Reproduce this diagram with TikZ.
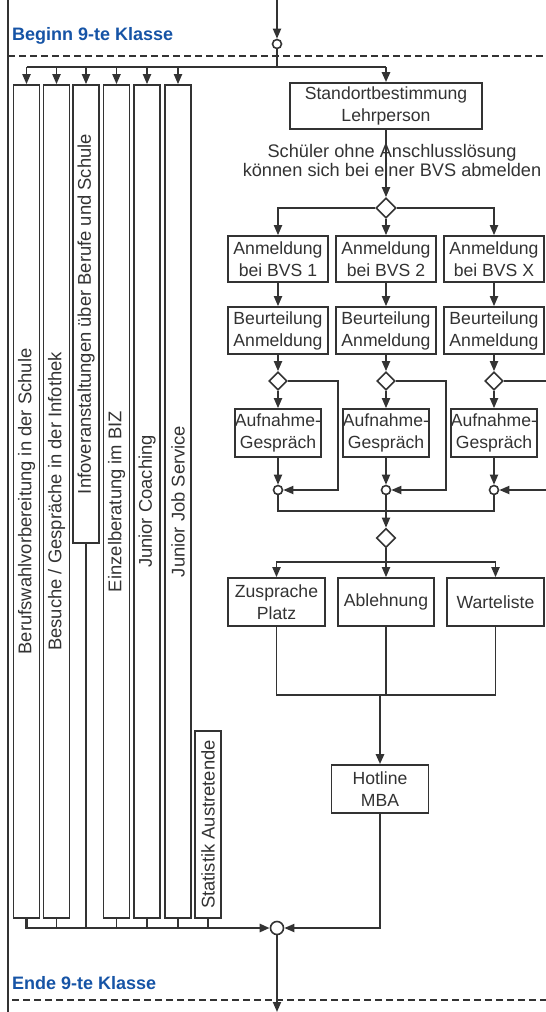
\documentclass[tikz,border=0pt]{standalone}
\usepackage{fontspec}
\setmainfont{Liberation Sans}
\usetikzlibrary{calc,positioning,arrows.meta,shapes.geometric}
\definecolor{linegray}{RGB}{51,51,51}
\definecolor{phaseblue}{RGB}{22,84,166}
\tikzset{box/.style={draw=linegray,fill=white,line width=1.6pt,rectangle,inner
sep=0pt,align=center,text=linegray,font=\fontsize{17.6}{22}\selectfont},bar/.style={box,rotate=90,minimum
height=26pt,font=\fontsize{18.4}{22}\selectfont},decide/.style={draw=linegray,fill=white,line width=1.6pt,diamond,inner
sep=0pt,minimum size=19pt},joint/.style={draw=linegray,fill=white,line width=1.6pt,circle,inner
sep=0pt,minimum size=9pt}}

\begin{document}
\begin{tikzpicture}[
			x=1pt,y=-1pt,
			flow/.style={draw=linegray,line width=1.8pt},
			bus/.style={line width=2.6pt},
			arr/.style={flow,-{Triangle[length=10pt,width=8pt]}},
			phase/.style={draw=linegray,line width=1.2pt,dash pattern=on 7pt off 4pt},
			phaselbl/.style={text=phaseblue,font=\fontsize{18}{22}\selectfont\bfseries,inner sep=0pt}
		]
		\useasboundingbox (0,0) rectangle (546,1012);
		% Rand und Phasen
		\draw[draw=linegray,line width=1.4pt] (8,0) -- (8,1012);
		\draw[phase] (8,56) -- (546,56);
		\draw[phase] (12,1000) -- (546,1000);
		\node[phaselbl,anchor=west] (beginn) at (12,36) {Beginn 9-te Klasse};
		\node[phaselbl,anchor=west] (ende) at (12,983) {Ende 9-te Klasse};

		% Eingang
		\coordinate (entry) at (277,0);
		\node[joint] (start) at (277,44) {};
		\draw[arr] (entry) -- (start);
		\coordinate (topbus) at (277,67);

		% Angebote (senkrechte Balken)
		\node[bar,minimum width=833pt] (b1) at (26.5,501.5) {Berufswahlvorbereitung in der Schule};
		\node[bar,minimum width=833pt] (b2) at (56.5,501.5) {Besuche / Gespräche in der Infothek};
		\node[bar,minimum width=458pt] (b3) at (86,314) {Infoveranstaltungen über Berufe und Schule};
		\node[bar,minimum width=833pt] (b4) at (116.5,501.5) {Einzelberatung im BIZ};
		\node[bar,minimum width=833pt] (b5) at (147,501.5) {Junior Coaching};
		\node[bar,minimum width=833pt] (b6) at (178,501.5) {Junior Job Service};
		\node[bar,minimum width=187pt] (b7) at (208,824.5) {Statistik Austretende};

		% Standortbestimmung
		\node[box,minimum width=192pt,minimum height=46pt] (std) at (386,106) {Standortbestimmung\\Lehrperson};
		\node[text=linegray,align=center,inner sep=0pt,font=\fontsize{18.2}{19}\selectfont] (hint) at (392,160)
			{Schüler ohne Anschlusslösung\\können sich bei einer BVS abmelden};
		\node[decide,minimum size=20pt] (d0) at (386,208) {};

		\draw[flow,bus] (start) -- (topbus);
		\draw[flow,bus] (b1.east |- topbus) -- (topbus) -- (topbus -| std);
		\draw[arr,bus] (topbus -| std) -- (std);
		\foreach \b in {b1,b2,b3,b4,b5,b6}
			\draw[arr] (\b.east |- topbus) -- (\b.east);
		\draw[arr] (std) -- (d0);

		% Anmeldung bei den BVS
		\foreach \c/\x/\n in {1/278/1,2/386/2,3/494/X} {
				\node[box,minimum width=100pt,minimum height=46pt] (anm\c) at (\x,259) {Anmeldung\\bei BVS \n};
				\node[box,minimum width=100pt,minimum height=47pt] (beu\c) at (\x,330.5) {Beurteilung\\Anmeldung};
				\node[decide,minimum size=18pt] (q\c) at (\x,381) {};
				\node[box,minimum width=84pt,minimum height=48pt] (auf\c) at (\x,433) {Aufnahme-\\Gespräch};
				\node[joint] (j\c) at (\x,490) {};
				\draw[arr] (anm\c) -- (beu\c);
				\draw[arr] (beu\c) -- (q\c);
				\draw[arr] (q\c) -- (auf\c);
				\draw[arr] (auf\c) -- (j\c);
				\draw[arr] (q\c.east) -- ++(50,0) |- (j\c);
			}
		\draw[arr] (d0.west) -| (anm1);
		\draw[arr] (d0) -- (anm2);
		\draw[arr] (d0.east) -| (anm3);

		% Entscheid
		\coordinate (m1) at (386,511);
		\node[decide] (d1) at (386,538) {};
		\draw[flow] (j1) |- (m1);
		\draw[flow] (j3) |- (m1);
		\draw[flow] (j2) -- (m1);
		\draw[arr] (m1) -- (d1);

		\coordinate (m2) at (386,562);
		\node[box,minimum width=97pt,minimum height=48pt] (zus) at (276.5,602) {Zusprache\\Platz};
		\node[box,minimum width=96pt,minimum height=48pt] (abl) at (386,602) {Ablehnung};
		\node[box,minimum width=97pt,minimum height=48pt] (wart) at (495.5,602) {Warteliste};
		\draw[flow] (d1) -- (m2);
		\draw[arr] (m2) -| (zus);
		\draw[arr] (m2) -- (abl);
		\draw[arr] (m2) -| (wart);

		% Hotline
		\coordinate (m3) at (380,695);
		\node[box,minimum width=97pt,minimum height=48pt] (hot) at (380,789) {Hotline\\MBA};
		\draw[flow] (zus) |- (m3);
		\draw[flow] (wart) |- (m3);
		\draw[flow] (abl) -- (abl |- m3);
		\draw[arr,bus] (m3) -- (hot);

		% Ende
		\node[joint,minimum size=13pt] (finish) at (277,928) {};
		\coordinate (exit) at (277,1012);
		\draw[arr] (hot) |- (finish);
		\draw[arr,bus] (b1.west) |- (finish);
		\foreach \b in {b2,b3,b4,b5,b6,b7}
			\draw[flow] (\b.west) -- (\b.west |- finish);
		\draw[arr] (finish) -- (exit);
	\end{tikzpicture}
\end{document}
